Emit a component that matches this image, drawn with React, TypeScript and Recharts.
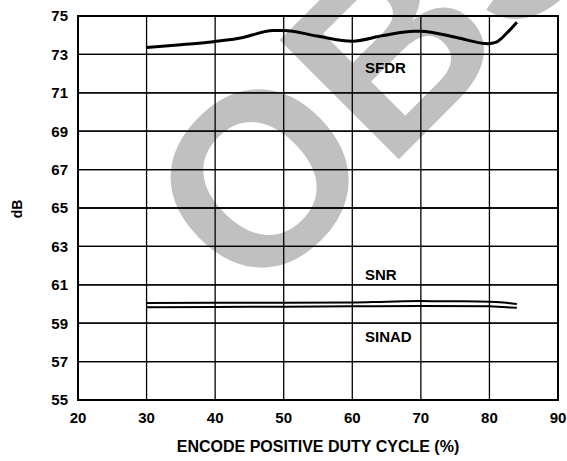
import React from 'react';
import { LineChart, Line, XAxis, YAxis, ReferenceLine, ReferenceArea } from 'recharts';

const xTicks = [20, 30, 40, 50, 60, 70, 80, 90];
const yTicks = [55, 57, 59, 61, 63, 65, 67, 69, 71, 73, 75];

const sfdrX = [30, 35, 39, 43.5, 48.5, 50, 54.8, 60, 64.5, 69, 70, 75.2, 79.8, 81, 82.5, 84];
const sfdrY = [73.36, 73.5, 73.63, 73.84, 74.24, 74.25, 73.96, 73.69, 73.98, 74.21, 74.21, 73.88, 73.56, 73.64, 74.1, 74.68];

const snrX = [30, 40, 50, 60, 65, 70, 75, 80, 82, 84];
const snrY = [60.05, 60.06, 60.06, 60.08, 60.12, 60.15, 60.14, 60.12, 60.08, 60.0];

const sinadX = [30, 40, 50, 60, 70, 80, 82, 84];
const sinadY = [59.83, 59.85, 59.86, 59.88, 59.9, 59.88, 59.84, 59.8];

const toRows = (xs: number[], ys: number[]) => xs.map((x, i) => ({ x, y: ys[i] }));
const sfdrData = toRows(sfdrX, sfdrY);
const snrData = toRows(snrX, snrY);
const sinadData = toRows(sinadX, sinadY);

const FONT = '"Liberation Sans", Arial, Helvetica, sans-serif';

export default function App() {
  return (
    <div style={{ position: 'absolute', left: 0, top: 0, width: 567, height: 461, background: '#fff', overflow: 'hidden' }}>
      <svg width={567} height={461} style={{ position: 'absolute', left: 0, top: 0 }}>
        <g transform="translate(252.5,305.6) rotate(-45)">
          <text x={0} y={0} fontSize={245} fontWeight="bold" fill="#c0c0c0" fontFamily={FONT}>OBSOLETE</text>
        </g>
      </svg>
      <div style={{ position: 'absolute', left: 0, top: 0 }}>
        <LineChart width={567} height={461} margin={{ top: 16, right: 9, bottom: 31, left: 18 }}>
          <XAxis
            dataKey="x"
            type="number"
            domain={[20, 90]}
            ticks={xTicks}
            allowDataOverflow
            height={30}
            axisLine={false}
            tickLine={false}
            tickSize={10}
            tickMargin={2}
            tick={{ fill: '#000', fontSize: 15, fontWeight: 'bold', fontFamily: FONT }}
          />
          <YAxis
            dataKey="y"
            type="number"
            domain={[55, 75]}
            ticks={yTicks}
            interval={0}
            allowDataOverflow
            width={60}
            axisLine={false}
            tickLine={false}
            tickSize={8}
            tickMargin={2}
            tick={{ fill: '#000', fontSize: 15, fontWeight: 'bold', fontFamily: FONT }}
          />
          {xTicks.map((v) => (
            <ReferenceLine key={'vx' + v} x={v} stroke="#000" strokeWidth={1.3} ifOverflow="visible" />
          ))}
          {yTicks.slice(0, -1).map((v, i) => (
            <ReferenceArea
              key={'band' + v}
              x1={20}
              x2={90}
              y1={v}
              y2={yTicks[i + 1]}
              fill="none"
              fillOpacity={0}
              stroke="#000"
              strokeWidth={1.3}
              ifOverflow="visible"
            />
          ))}
          <ReferenceArea x1={20} x2={90} y1={55} y2={75} fill="none" fillOpacity={0} stroke="#000" strokeWidth={2} ifOverflow="visible" />
          <Line data={snrData} dataKey="y" type="monotone" stroke="#000" strokeWidth={2} dot={false} isAnimationActive={false} />
          <Line data={sinadData} dataKey="y" type="monotone" stroke="#000" strokeWidth={2} dot={false} isAnimationActive={false} />
          <Line data={sfdrData} dataKey="y" type="monotone" stroke="#000" strokeWidth={3} dot={false} isAnimationActive={false} />
        </LineChart>
      </div>
      <svg width={567} height={461} style={{ position: 'absolute', left: 0, top: 0, pointerEvents: 'none' }}>
        <g fontFamily={FONT} fontWeight="bold" fill="#000">
          <text x={365} y={73} fontSize={15}>SFDR</text>
          <text x={365} y={280} fontSize={15}>SNR</text>
          <text x={365} y={342} fontSize={15}>SINAD</text>
          <text x={318} y={452} fontSize={16} textAnchor="middle">ENCODE POSITIVE DUTY CYCLE (%)</text>
          <text transform="translate(22,209) rotate(-90)" x={0} y={0} fontSize={14} textAnchor="middle">dB</text>
        </g>
      </svg>
    </div>
  );
}
